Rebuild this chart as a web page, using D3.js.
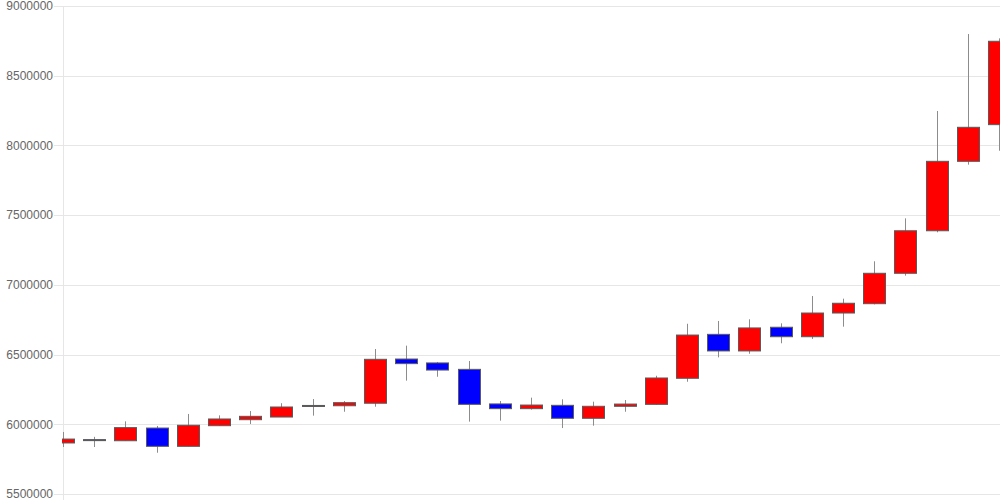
<!DOCTYPE html>
<html>
<head>
<meta charset="utf-8">
<script src="https://cdn.jsdelivr.net/npm/d3@7/dist/d3.min.js"></script>
<style>
  html, body { margin: 0; padding: 0; background: #fff; }
  .y.axis text { font-family: "Liberation Sans", Arial, sans-serif; font-size: 12px; fill: #666; }
</style>
</head>
<body>
<div id="chart"></div>
<script>
// Days (categories)
var days = [1, 2, 3, 4, 5, 6, 7, 8, 9, 10, 11, 12, 13, 14, 15, 16,
            17, 18, 19, 20, 21, 22, 23, 24, 25, 26, 27, 28, 29, 30, 31];

// OHLC series
var opens  = [5866000, 5890000, 5882000, 5973000, 5842000, 5990000, 6033000, 6052000, 6128000, 6133000,
              6151000, 6468000, 6440000, 6394000, 6146000, 6112000, 6136000, 6043000, 6129000, 6143000,
              6330000, 6645000, 6526000, 6696000, 6628000, 6798000, 6865000, 7083000, 7388000, 7886000,
              8149000];
var highs  = [5945000, 5910000, 6021000, 5988000, 6074000, 6064000, 6095000, 6151000, 6181000, 6167000,
              6540000, 6564000, 6447000, 6454000, 6167000, 6191000, 6179000, 6162000, 6174000, 6348000,
              6721000, 6741000, 6753000, 6724000, 6920000, 6901000, 7169000, 7477000, 8247000, 8799000,
              8768000];
var lows   = [5837000, 5837000, 5882000, 5796000, 5842000, 5988000, 6002000, 6052000, 6062000, 6090000,
              6126000, 6313000, 6341000, 6019000, 6026000, 6105000, 5973000, 5990000, 6090000, 6140000,
              6305000, 6480000, 6506000, 6581000, 6612000, 6700000, 6860000, 7066000, 7377000, 7862000,
              7962000];
var closes = [5894000, 5885000, 5976000, 5842000, 5993000, 6038000, 6057000, 6124000, 6135000, 6155000,
              6466000, 6435000, 6389000, 6143000, 6112000, 6138000, 6043000, 6129000, 6145000, 6332000,
              6640000, 6526000, 6691000, 6628000, 6798000, 6868000, 7083000, 7388000, 7886000, 8130000,
              8747000];

// Y ticks
var yTicks = [5500000, 6000000, 6500000, 7000000, 7500000, 8000000, 8500000, 9000000];

var data = days.map(function(d, i) {
  return { day: d, open: opens[i], high: highs[i], low: lows[i], close: closes[i] };
});

// Size
var width = 1000,
    height = 500,
    margin = { top: 6, right: 0, bottom: 6, left: 63 };

var svg = d3.select("#chart").append("svg")
  .attr("width", width)
  .attr("height", height)
  .style("display", "block");

// Scales
var x = d3.scalePoint()
  .domain(days)
  .range([margin.left, width - 1]);

var y = d3.scaleLinear()
  .domain([5500000, 9000000])
  .range([height - margin.bottom, margin.top]);

var bodyWidth = 22;

// Clip to plot area
svg.append("defs").append("clipPath")
  .attr("id", "plot-clip")
  .append("rect")
    .attr("x", margin.left - 1)
    .attr("y", 0)
    .attr("width", width - margin.left + 1)
    .attr("height", height);

// Y axis with grid
var yAxis = svg.append("g")
  .attr("class", "y axis")
  .attr("transform", "translate(" + margin.left + ",0)")
  .call(d3.axisLeft(y)
    .tickValues(yTicks)
    .tickSize(-(width - margin.left))
    .tickSizeOuter(0)
    .tickPadding(10)
    .tickFormat(d3.format("d")));

yAxis.select(".domain").remove();
yAxis.selectAll(".tick line")
  .attr("x1", -9)
  .attr("stroke", "#e6e6e6")
  .attr("shape-rendering", "crispEdges");

// Vertical axis line
svg.append("line")
  .attr("x1", margin.left + 0.5)
  .attr("x2", margin.left + 0.5)
  .attr("y1", margin.top)
  .attr("y2", height)
  .attr("stroke", "#e6e6e6");

// Candles
var plot = svg.append("g")
  .attr("clip-path", "url(#plot-clip)");

var candles = plot.selectAll(".candle")
  .data(data).enter()
  .append("g")
    .attr("class", "candle");

// Wicks
candles.append("line")
  .attr("x1", function(d) { return Math.round(x(d.day)) + 0.5; })
  .attr("x2", function(d) { return Math.round(x(d.day)) + 0.5; })
  .attr("y1", function(d) { return y(d.high); })
  .attr("y2", function(d) { return y(d.low); })
  .attr("stroke", "#8c8c8c")
  .attr("stroke-width", 1);

// Bodies
candles.append("rect")
  .attr("x", function(d) { return Math.round(x(d.day)) - bodyWidth / 2 + 0.5; })
  .attr("y", function(d) { return y(Math.max(d.open, d.close)); })
  .attr("width", bodyWidth)
  .attr("height", function(d) {
    return Math.max(1, Math.abs(y(d.open) - y(d.close)));
  })
  .attr("fill", function(d) { return d.close >= d.open ? "#ff0000" : "#0000ff"; })
  .attr("stroke", "#5a5a5a")
  .attr("stroke-width", 1);
</script>
</body>
</html>
